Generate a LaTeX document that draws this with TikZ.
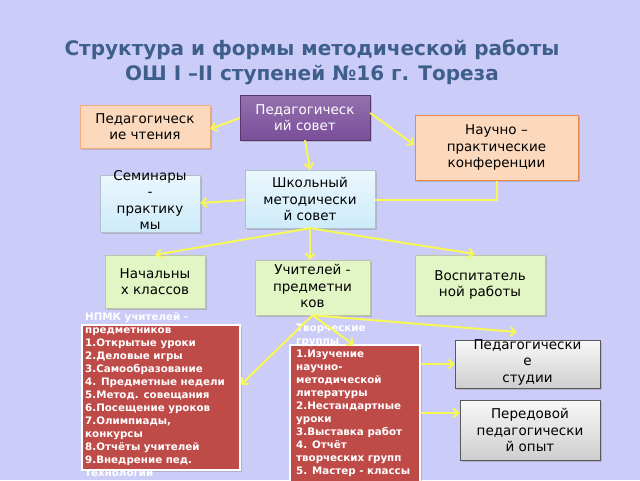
\documentclass[tikz,border=0pt]{standalone}
\usepackage{fontspec}
\setmainfont{DejaVu Sans}
\usetikzlibrary{shadows,arrows.meta}
\definecolor{bg}{HTML}{CCCCF8}
\definecolor{ttl}{HTML}{3E5F8C}
\definecolor{purp}{HTML}{7A4E9A}
\definecolor{peach}{HTML}{FCD8BC}
\definecolor{orng}{HTML}{E8894A}
\definecolor{lblue}{HTML}{CDEBFA}
\definecolor{lgreen}{HTML}{E2F5C4}
\definecolor{redb}{HTML}{BF4B49}
\definecolor{gry}{HTML}{DCDCDC}
\definecolor{yel}{HTML}{F8F855}
\begin{document}
\begin{tikzpicture}[x=1pt,y=-1pt,
  box/.style={draw,minimum width=#1,inner sep=0pt,drop shadow={shadow xshift=1.5pt,shadow yshift=-1.5pt,opacity=0.35}},
  txt/.style={align=center,font=\fontsize{13.5}{16.5}\selectfont,inner sep=0pt},
  rtxt/.style={align=left,font=\fontsize{10.3}{13}\selectfont\bfseries,text=white,inner sep=0pt,anchor=north west},
  arr/.style={draw=yel,line width=2pt,-{Straight Barb[length=5pt,width=9pt]}},
  ln/.style={draw=yel,line width=2pt}]
\fill[bg] (0,0) rectangle (640,480);
\useasboundingbox (0,0) rectangle (640,480);
\node[text=ttl,font=\fontsize{20}{25}\selectfont\bfseries,align=center] at (312,62) {Структура и формы методической работы\\ОШ I –II ступеней №16 г. Тореза};
% boxes
\node[box=130pt,minimum height=45pt,draw=purp!70!black,top color=purp!80,bottom color=purp] (ps) at (305,117.5) {};
\node[txt,text=white] at (ps) {Педагогическ\\ий совет};
\node[box=130pt,minimum height=43pt,draw=orng!70,fill=peach] (pch) at (145,126.5) {};
\node[txt] at (pch) {Педагогическ\\ие чтения};
\node[box=163pt,minimum height=65pt,draw=orng,line width=1pt,fill=peach] (nk) at (496.5,147.5) {};
\node[txt] at (nk) {Научно –\\практические\\конференции};
\node[box=100pt,minimum height=57pt,draw=lblue!60!gray,top color=white!60!lblue,bottom color=lblue] (sem) at (150,203.5) {};
\node[txt] at (150,200) {Семинары\\-\\практику\\мы};
\node[box=130pt,minimum height=58pt,draw=lblue!60!gray,top color=white!60!lblue,bottom color=lblue] (shms) at (310,199) {};
\node[txt] at (shms) {Школьный\\методически\\й совет};
\node[box=100pt,minimum height=53pt,draw=lgreen!60!gray,fill=lgreen] (nach) at (155,281.5) {};
\node[txt] at (nach) {Начальны\\х классов};
\node[box=115pt,minimum height=55pt,draw=lgreen!60!gray,fill=lgreen] (uch) at (312.5,287.5) {};
\node[txt] at (312.5,286) {Учителей -\\предметни\\ков};
\node[box=130pt,minimum height=60pt,draw=lgreen!60!gray,fill=lgreen] (vos) at (480,285) {};
\node[txt] at (vos) {Воспитатель\\ной работы};
\node[box=158pt,minimum height=145pt,draw=white,line width=1.5pt,fill=redb] (npmk) at (161,397.5) {};
\node[rtxt] at (85,312) {НПМК учителей -\\предметников\\1.Открытые уроки\\2.Деловые  игры\\3.Самообразование\\4. Предметные недели\\5.Метод. совещания\\6.Посещение уроков\\7.Олимпиады,\\конкурсы\\8.Отчёты учителей\\9.Внедрение пед.\\технологии};
\node[box=130pt,minimum height=140pt,draw=white,line width=1.5pt,fill=redb] (tvg) at (355,415) {};
\node[rtxt] at (296,324) {Творческие\\группы\\1.Изучение\\научно-\\методической\\литературы\\2.Нестандартные\\уроки\\3.Выставка работ\\4. Отчёт\\творческих групп\\5. Мастер - классы};
\node[box=145pt,minimum height=48pt,draw=gray!70!black,top color=white!80!gry,bottom color=gry!85!gray] (std) at (527.5,364) {};
\node[txt] at (527.5,362) {Педагогически\\е\\студии};
\node[box=140pt,minimum height=60pt,draw=gray!70!black,top color=white!80!gry,bottom color=gry!85!gray] (per) at (530,430) {};
\node[txt] at (per) {Передовой\\педагогически\\й опыт};
% connectors
\coordinate (c1) at (497,200);
\coordinate (c2) at (517,332);
\draw[arr] (ps.west|-0,118) -- (pch.east|-0,129);
\draw[arr] (ps.east|-0,113) -- (nk.west|-0,145);
\draw[arr] (ps.south) -- (shms.north);
\draw[ln] (nk.south-|c1) -- (c1) -- (shms.east|-c1);
\draw[arr] (shms.west|-0,200) -- (sem.east|-0,203);
\draw[arr] (shms.south) -- (nach.north);
\draw[arr] (shms.south) -- (uch.north-|shms.south);
\draw[arr] (shms.south) -- (475,254);
\draw[arr] (uch.south) -- (npmk.east|-0,385);
\draw[arr] (uch.south) -- (354,345);
\draw[arr] (uch.south) -- (c2);
\draw[arr] (tvg.east|-0,364) -- (std.west|-0,364);
\draw[arr] (tvg.east|-0,413) -- (per.west|-0,413);
\end{tikzpicture}
\end{document}
